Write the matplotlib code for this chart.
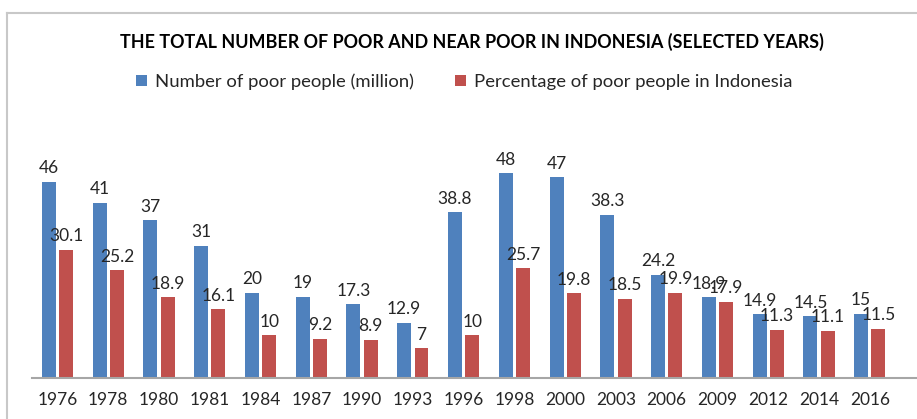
import numpy as np
from matplotlib import pyplot as plt
from matplotlib.lines import Line2D

# Data
years = ['1976', '1978', '1980', '1981', '1984', '1987', '1990', '1993', '1996',
         '1998', '2000', '2003', '2006', '2009', '2012', '2014', '2016']
poor_million = [46, 41, 37, 31, 20, 19, 17.3, 12.9, 38.8, 48, 47, 38.3, 24.2, 18.9, 14.9, 14.5, 15]
poor_pct = [30.1, 25.2, 18.9, 16.1, 10, 9.2, 8.9, 7, 10, 25.7, 19.8, 18.5, 19.9, 17.9, 11.3, 11.1, 11.5]

blue = '#4F81BD'
red = '#C0504D'
txt = '#262626'

plt.rcParams['font.family'] = ['Lato', 'DejaVu Sans']

fig = plt.figure(figsize=(9.17, 4.19), dpi=100)
ax = fig.add_axes([0.035, 0.098, 0.965, 0.611])

x = np.arange(len(years))
w = 0.275
off = 0.17
b1 = ax.bar(x - off, poor_million, w, color=blue, label='Number of poor people (million)')
b2 = ax.bar(x + off, poor_pct, w, color=red, label='Percentage of poor people in Indonesia')

# value labels above each bar
for bars, vals in ((b1, poor_million), (b2, poor_pct)):
    for r, v in zip(bars, vals):
        ax.annotate(f'{v:g}', (r.get_x() + r.get_width() / 2, r.get_height()),
                    xytext=(0, 4), textcoords='offset points',
                    ha='center', va='bottom', fontsize=12.5, color=txt)

ax.set_xlim(-0.5, 16.93)
ax.set_ylim(0, 60)
ax.set_xticks(x)
ax.set_xticklabels(years, fontsize=12.5, color=txt)
ax.tick_params(axis='x', length=0, pad=10)
ax.set_yticks([])
for s in ['left', 'top', 'right']:
    ax.spines[s].set_visible(False)
ax.spines['bottom'].set_color('#a6a6a6')
ax.spines['bottom'].set_linewidth(1.5)

fig.text(0.515, 0.9, 'THE TOTAL NUMBER OF POOR AND NEAR POOR IN INDONESIA (SELECTED YEARS)',
         ha='center', va='center', fontsize=12.9, fontweight='bold', color='black')
fig.legend(handles=[b1, b2], loc='center', bbox_to_anchor=(0.506, 0.805), ncol=2,
           frameon=False, fontsize=13.3, handlelength=0.6, handleheight=0.6,
           columnspacing=2.2, handletextpad=0.45, labelcolor=txt)

# chart frame (cropped on the right and bottom)
fig.add_artist(Line2D([0.008, 0.008], [0, 0.969], color='#c8c8c8', lw=1.5, transform=fig.transFigure))
fig.add_artist(Line2D([0.008, 1.0], [0.969, 0.969], color='#c8c8c8', lw=1.5, transform=fig.transFigure))

fig.savefig('out.png', dpi=100)
